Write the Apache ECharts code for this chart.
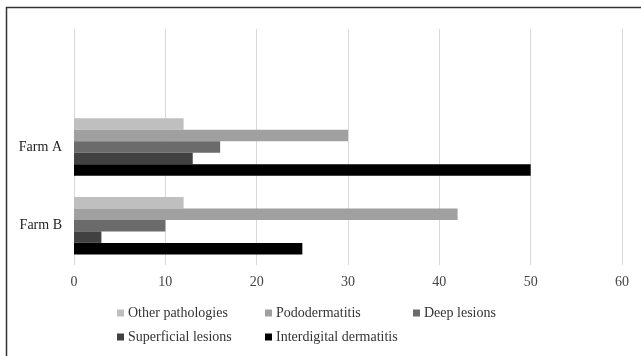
<!DOCTYPE html>
<html>
<head>
<meta charset="utf-8">
<script src="https://cdn.jsdelivr.net/npm/echarts@6/dist/echarts.min.js"></script>
<style>
  html, body { margin: 0; padding: 0; background: #fff; }
  #chart { width: 641px; height: 356px; }
</style>
</head>
<body>
<div id="chart"></div>
<script>
// Farms shown on the category axis (top to bottom)
const categories = ['Farm A', 'Farm B'];
// Lesion types, in legend order
const seriesNames = ['Other pathologies', 'Pododermatitis', 'Deep lesions', 'Superficial lesions', 'Interdigital dermatitis'];
// Values per farm for each lesion type
const otherPathologies = [12, 12];
const pododermatitis = [30, 42];
const deepLesions = [16, 10];
const superficialLesions = [13, 3];
const interdigitalDermatitis = [50, 25];
const seriesColors = ['#bfbfbf', '#a0a0a0', '#6b6b6b', '#414141', '#000000'];
const xTicks = [0, 10, 20, 30, 40, 50, 60];

const values = [otherPathologies, pododermatitis, deepLesions, superficialLesions, interdigitalDermatitis];
// an empty leading slot leaves blank space above Farm A
const axisCategories = [''].concat(categories);

const chart = echarts.init(document.getElementById('chart'), null, { renderer: 'canvas' });
const serif = '"Liberation Serif", "Times New Roman", serif';

// legend laid out as a grid: three columns, two rows
const legendColumns = [
  [seriesNames[0], seriesNames[3]],
  [seriesNames[1], seriesNames[4]],
  [seriesNames[2]]
];
const legends = legendColumns.map((names, c) => ({
  orient: 'vertical',
  left: 117 + c * 148,
  top: 306,
  itemWidth: 7,
  itemHeight: 7,
  itemGap: 10,
  icon: 'rect',
  padding: 0,
  data: names,
  textStyle: { color: '#333', fontFamily: serif, fontSize: 14, padding: [0, 0, 0, -1] }
}));

chart.setOption({
  animation: false,
  backgroundColor: '#fff',
  graphic: [
    { type: 'line', shape: { x1: 6, y1: 7.5, x2: 641, y2: 7.5 }, style: { stroke: '#333', lineWidth: 1.5 } },
    { type: 'line', shape: { x1: 6.5, y1: 7, x2: 6.5, y2: 356 }, style: { stroke: '#333', lineWidth: 1.5 } }
  ],
  grid: { left: 74, right: 19, top: 29, bottom: 91 },
  xAxis: {
    type: 'value',
    min: xTicks[0],
    max: xTicks[xTicks.length - 1],
    interval: 10,
    axisLine: { show: false },
    axisTick: { show: false },
    splitLine: { show: true, lineStyle: { color: '#d9d9d9', width: 1 } },
    axisLabel: { color: '#444', fontFamily: serif, fontSize: 14, margin: 10 }
  },
  yAxis: {
    type: 'category',
    inverse: true,
    data: axisCategories,
    axisLine: { show: false },
    axisTick: { show: false },
    axisLabel: { color: '#222', fontFamily: serif, fontSize: 14, margin: 12 }
  },
  legend: legends,
  series: seriesNames.map((name, i) => ({
    name: name,
    type: 'bar',
    data: [null].concat(values[i]),
    barGap: '0%',
    barCategoryGap: '27%',
    itemStyle: { color: seriesColors[i] }
  }))
});
</script>
</body>
</html>
